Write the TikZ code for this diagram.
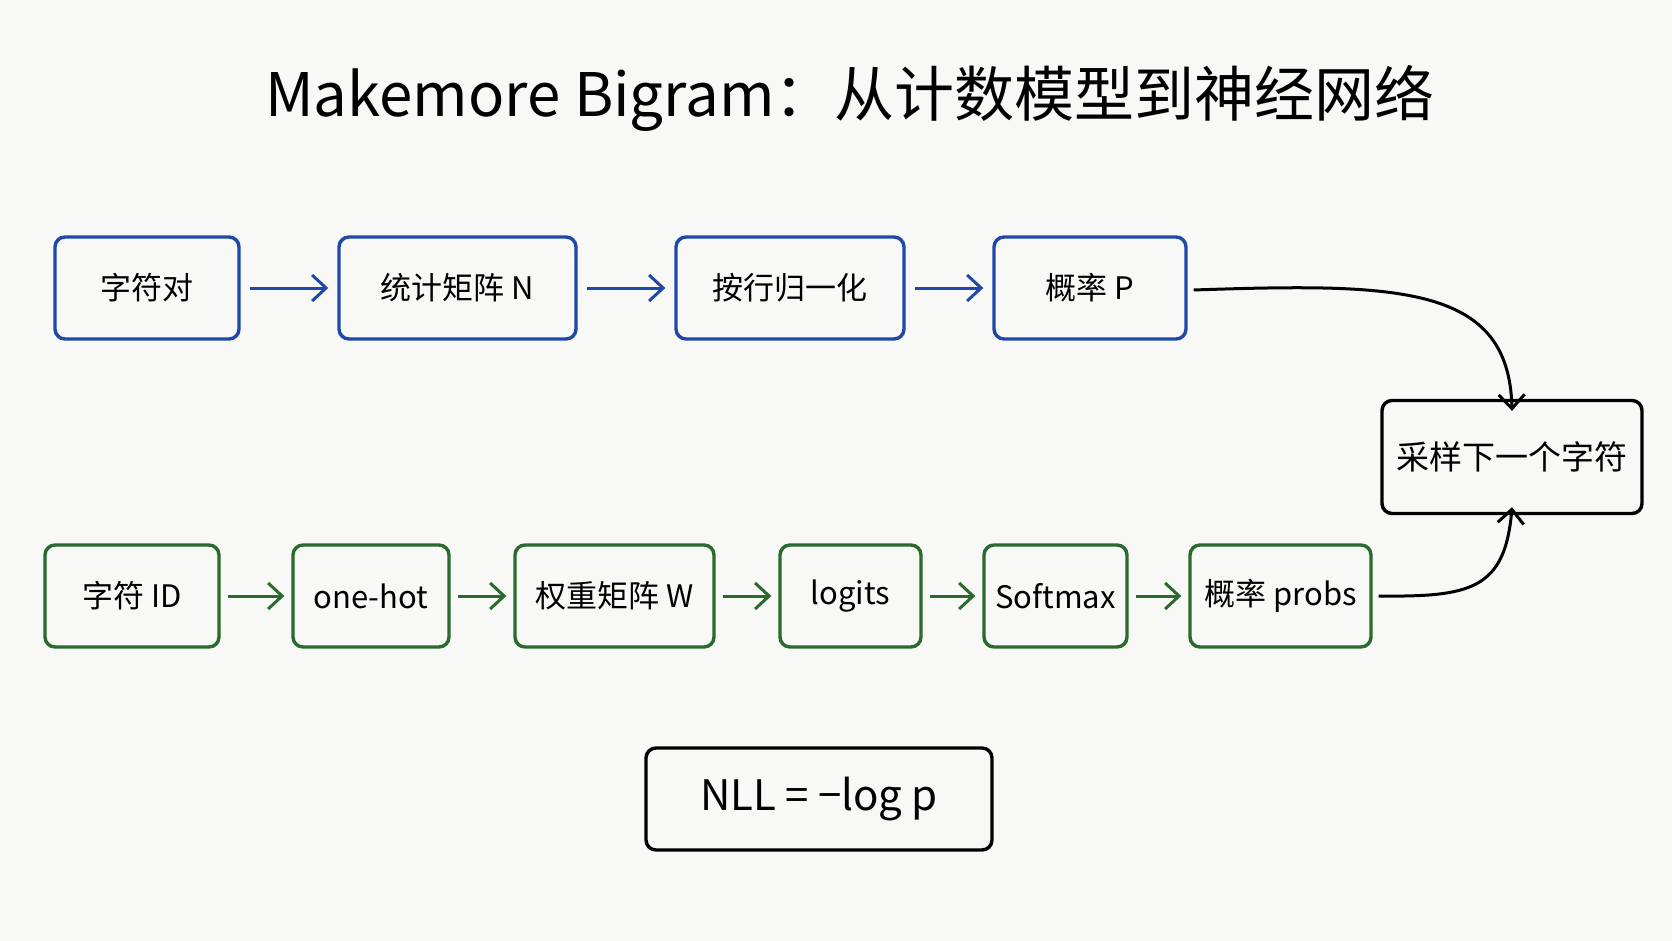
\documentclass[tikz,border=0pt]{standalone}
\usepackage{fontspec}
\setmainfont{Noto Sans CJK SC}
\usetikzlibrary{arrows.meta}
\definecolor{bl}{HTML}{1F48A8}
\definecolor{gr}{HTML}{2A6A2E}
\definecolor{bg}{HTML}{F8F8F6}
\begin{document}
\begin{tikzpicture}[x=1pt,y=-1pt,
 box/.style={draw,line width=3.4pt,rounded corners=10pt,font=\fontsize{31}{36}\selectfont,inner sep=0pt},
 bbox/.style={box,draw=bl},
 gbox/.style={box,draw=gr},
 arr/.style={-{Straight Barb[length=14pt,width=26pt,line width=3pt]},line width=3pt}]
\fill[bg] (0,0) rectangle (1672,941);
\useasboundingbox (0,0) rectangle (1672,941);
\node (t) at (850,98) {\fontsize{60}{70}\selectfont Makemore Bigram：从计数模型到神经网络};
\newcommand{\bx}[6]{\node[#1,minimum width=#4pt-#3pt,minimum height=102pt] (#2) at ({(#3+#4)/2},#5) {#6};}
\bx{bbox}{a1}{55}{239}{288}{字符对}
\bx{bbox}{a2}{339}{576}{288}{统计矩阵 N}
\bx{bbox}{a3}{676}{904}{288}{按行归一化}
\bx{bbox}{a4}{994}{1186}{288}{概率 P}
\bx{gbox}{b1}{45}{219}{596}{字符 ID}
\bx{gbox}{b2}{293}{449}{596}{one-hot}
\bx{gbox}{b3}{515}{714}{596}{权重矩阵 W}
\bx{gbox}{b4}{780}{921}{596}{logits}
\bx{gbox}{b5}{984}{1127}{596}{Softmax}
\bx{gbox}{b6}{1190}{1371}{596}{概率 probs}
\node[box,draw=black,minimum width=260pt,minimum height=113pt,font=\fontsize{33}{38}\selectfont] (s) at (1512,457) {采样下一个字符};
\node[box,draw=black,minimum width=346pt,minimum height=102pt,font=\fontsize{42}{48}\selectfont] (n) at (819,799) {NLL = −log p};
\foreach \p/\q in {a1/a2,a2/a3,a3/a4}{\draw[arr,bl,shorten <=9pt,shorten >=9pt] (\p) -- (\q);}
\foreach \p/\q in {b1/b2,b2/b3,b3/b4,b4/b5,b5/b6}{\draw[arr,gr,shorten <=7pt,shorten >=7pt] (\p) -- (\q);}
\draw[arr] ([xshift=6pt,yshift=-2pt]a4.east) .. controls (1400,283) and (1509,285) .. ([yshift=-12pt]s.north);
\draw[arr] ([xshift=6pt]b6.east) .. controls (1470,597) and (1505,590) .. ([yshift=8pt]s.south);
\end{tikzpicture}
\end{document}
